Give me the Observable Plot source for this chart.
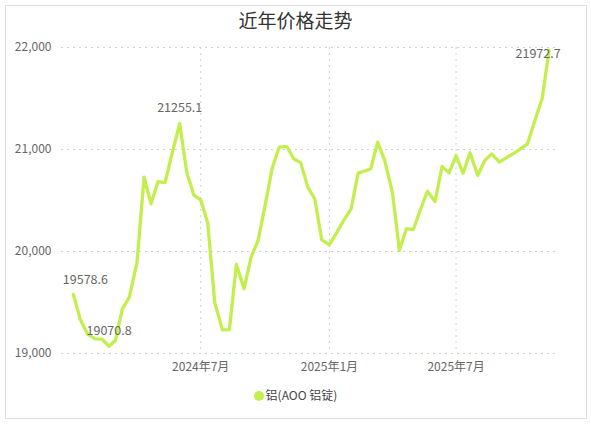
<!DOCTYPE html>
<html>
<head>
<meta charset="utf-8">
<script src="https://cdn.jsdelivr.net/npm/d3@7"></script>
<script src="https://cdn.jsdelivr.net/npm/@observablehq/plot@0.6"></script>
<style>
  html, body { margin: 0; padding: 0; background: #fff; }
  body { width: 591px; height: 425px; position: relative; overflow: hidden;
         font-family: "Noto Sans CJK SC", "Noto Sans", sans-serif; }
  #frame { position: absolute; left: 5px; top: 5px; width: 582px; height: 414px;
           border: 1px solid #dcdcdc; box-sizing: border-box; }
  #title { position: absolute; left: 0; width: 591px; top: 6px; text-align: center;
           font-size: 19px; color: #333; }
  #chart { position: absolute; left: 0; top: 30px; }
  #legend { position: absolute; left: 0; width: 591px; top: 386px; text-align: center;
            font-size: 12px; color: #444; }
  #legend .dot { display: inline-block; width: 10px; height: 10px; border-radius: 50%;
                 vertical-align: -1px; margin-right: 2px; }
</style>
</head>
<body>
<div id="frame"></div>
<div id="title">近年价格走势</div>
<div id="chart"></div>
<div id="legend"></div>
<script>
const title = "近年价格走势";
const seriesName = "铝(AOO 铝锭)";
const lineColor = "#c2ef4e";

// dekad dates (1st, 11th, 21st of each month), Jan 2024 – Nov 2025
const dates = [
  "2024-01-01","2024-01-11","2024-01-21","2024-02-01","2024-02-11","2024-02-21",
  "2024-03-01","2024-03-11","2024-03-21","2024-04-01","2024-04-11","2024-04-21",
  "2024-05-01","2024-05-11","2024-05-21","2024-06-01","2024-06-11","2024-06-21",
  "2024-07-01","2024-07-11","2024-07-21","2024-08-01","2024-08-11","2024-08-21",
  "2024-09-01","2024-09-11","2024-09-21","2024-10-01","2024-10-11","2024-10-21",
  "2024-11-01","2024-11-11","2024-11-21","2024-12-01","2024-12-11","2024-12-21",
  "2025-01-01","2025-01-11","2025-01-21","2025-02-01","2025-02-11","2025-02-21",
  "2025-03-01","2025-03-11","2025-03-21","2025-04-01","2025-04-11","2025-04-21",
  "2025-05-01","2025-05-11","2025-05-21","2025-06-01","2025-06-11","2025-06-21",
  "2025-07-01","2025-07-11","2025-07-21","2025-08-01","2025-08-11","2025-08-21",
  "2025-09-01","2025-09-11","2025-09-21","2025-10-01","2025-10-11","2025-10-21",
  "2025-11-01","2025-11-11"
];
const prices = [
  19578.6, 19330, 19193, 19144, 19140, 19070.8,
  19127, 19438, 19552, 19895, 20728, 20467,
  20686, 20676, 20960, 21255.1, 20778, 20556,
  20507, 20280, 19503, 19232, 19235, 19873,
  19634, 19944, 20108, 20450, 20811, 21023,
  21029, 20909, 20869, 20631, 20517, 20115,
  20066, 20180, 20300, 20418, 20768, 20790,
  20811, 21072, 20892, 20582, 20010, 20222,
  20216, 20409, 20591, 20490, 20833, 20771,
  20941, 20768, 20968, 20745, 20892, 20957,
  20876, 20920, 20960, 21007, 21055, 21270,
  21497, 21972.7
];
const labeledValues = [19578.6, 19070.8, 21255.1, 21972.7];
const yTicks = [19000, 20000, 21000, 22000];
const xTicks = ["2024-07-01", "2025-01-01", "2025-07-01"];
const xDomain = ["2023-12-15", "2025-11-23"];

const data = dates.map((d, i) => ({date: new Date(d), value: prices[i]}));
const labels = data.filter(d => labeledValues.includes(d.value));
const firstDate = data[0].date, lastDate = data[data.length - 1].date;
const fmtMonth = d => `${d.getUTCFullYear()}年${d.getUTCMonth() + 1}月`;

const chart = Plot.plot({
  width: 591,
  height: 355,
  marginLeft: 61,
  marginRight: 34,
  marginTop: 17,
  marginBottom: 32,
  style: {fontFamily: '"Noto Sans CJK SC", "Noto Sans", sans-serif', fontSize: "12px", color: "#666", background: "transparent"},
  x: {type: "utc", domain: xDomain.map(d => new Date(d))},
  y: {domain: [19000, 22000]},
  marks: [
    Plot.gridY(yTicks, {stroke: "#d0d0d0", strokeOpacity: 1, strokeDasharray: "2,4"}),
    Plot.gridX(xTicks.map(d => new Date(d)), {stroke: "#d0d0d0", strokeOpacity: 1, strokeDasharray: "2,4"}),
    Plot.axisY(yTicks, {tickSize: 0, tickPadding: 10, tickFormat: d3.format(","), fill: "#666", label: null}),
    Plot.axisX(xTicks.map(d => new Date(d)), {tickSize: 0, tickPadding: 9, tickFormat: fmtMonth, fill: "#666", label: null}),
    Plot.line(data, {x: "date", y: "value", stroke: lineColor, strokeWidth: 3.3, curve: "linear"}),
    Plot.text(labels.filter(d => +d.date !== +firstDate && +d.date !== +lastDate),
      {x: "date", y: "value", text: d => String(d.value), dy: -15, fill: "#666", fontSize: 12.5}),
    Plot.text(labels.filter(d => +d.date === +firstDate),
      {x: "date", y: "value", text: d => String(d.value), dy: -14, dx: 12, fill: "#666", fontSize: 12.5}),
    Plot.text(labels.filter(d => +d.date === +lastDate),
      {x: "date", y: "value", text: d => String(d.value), dy: 4, dx: -11, fill: "#666", fontSize: 12.5})
  ]
});
document.getElementById("chart").appendChild(chart);
document.getElementById("legend").innerHTML =
  `<span class="dot" style="background:${lineColor}"></span>${seriesName}`;
</script>
</body>
</html>
